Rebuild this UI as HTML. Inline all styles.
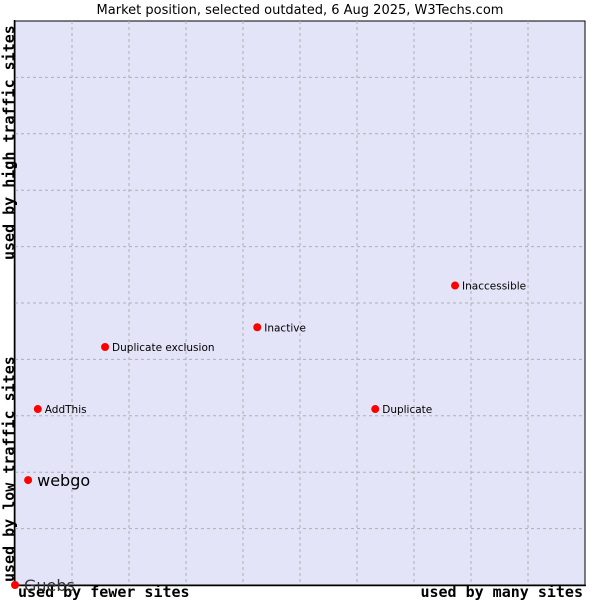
<!DOCTYPE html>
<html><head><meta charset="utf-8"><style>
body{margin:0;background:#fff;}
svg text{font-family:"DejaVu Sans","Liberation Sans",sans-serif;}
.mono{font-family:"DejaVu Sans Mono","Liberation Mono",monospace;font-size:15px;font-weight:bold;}
</style></head><body>
<svg id="chart" width="600" height="600" xmlns="http://www.w3.org/2000/svg">
<text x="300" y="14" text-anchor="middle" font-size="13" fill="#000">Market position, selected outdated, 6 Aug 2025, W3Techs.com</text>
<rect x="15" y="21" width="570" height="564" fill="#e3e4f8" stroke="#000"/>
<g id="grid"></g>
<line x1="15" y1="585.5" x2="586" y2="585.5" stroke="#000" stroke-width="1.5"/>
<line x1="14.5" y1="20" x2="14.5" y2="586" stroke="#000" stroke-width="1.5"/>
<text class="mono" x="18" y="597">used by fewer sites</text>
<text class="mono" x="583" y="597" text-anchor="end">used by many sites</text>
<text class="mono" transform="translate(14,582) rotate(-90)">used by low traffic sites</text>
<text class="mono" transform="translate(14,260) rotate(-90)">used by high traffic sites</text>
<g id="points"></g>
</svg>
<script>
const names=["Guebs","webgo","AddThis","Duplicate exclusion","Inactive","Duplicate","Inaccessible"];
const xValues=[0,2.3,4,15.8,42.5,63.2,77.2];
const yValues=[0,18.6,31.2,42.2,45.7,31.2,53.1];
const labelSizes=[16,16,10.5,10.5,10.5,10.5,10.5];
const NS="http://www.w3.org/2000/svg";
const X0=15,X1=585,Y0=585,Y1=21;
function sx(v){return X0+v/100*(X1-X0);}
function sy(v){return Y0-v/100*(Y0-Y1);}
const grid=document.getElementById('grid');
for(let i=1;i<10;i++){
  const v=document.createElementNS(NS,'line');
  
  
  v.setAttribute('x1',sx(i*10));v.setAttribute('x2',sx(i*10));v.setAttribute('y1',Y1);v.setAttribute('y2',Y0);
  v.setAttribute('stroke','#b0b0b0');v.setAttribute('stroke-dasharray','3,3');
  grid.appendChild(v);
  const h=document.createElementNS(NS,'line');
  
  
  h.setAttribute('y1',sy(i*10));h.setAttribute('y2',sy(i*10));h.setAttribute('x1',X0);h.setAttribute('x2',X1);
  h.setAttribute('stroke','#b0b0b0');h.setAttribute('stroke-dasharray','3,3');
  grid.appendChild(h);
}
const pts=document.getElementById('points');
names.forEach((n,i)=>{
  const x=sx(xValues[i]),y=sy(yValues[i]);
  const c=document.createElementNS(NS,'circle');
  
  
  c.setAttribute('cx',x);c.setAttribute('cy',y);c.setAttribute('r',4);c.setAttribute('fill','#ff0000');
  pts.appendChild(c);
  const t=document.createElementNS(NS,'text');
  
  
  t.setAttribute('x',x+(labelSizes[i]>12?9:7));t.setAttribute('y',y+(labelSizes[i]>12?6:4));
  t.setAttribute('font-size',labelSizes[i]);
  t.setAttribute('fill',i===0?'#333':'#000');
  t.textContent=n;
  pts.appendChild(t);
});
</script>
</body></html>
